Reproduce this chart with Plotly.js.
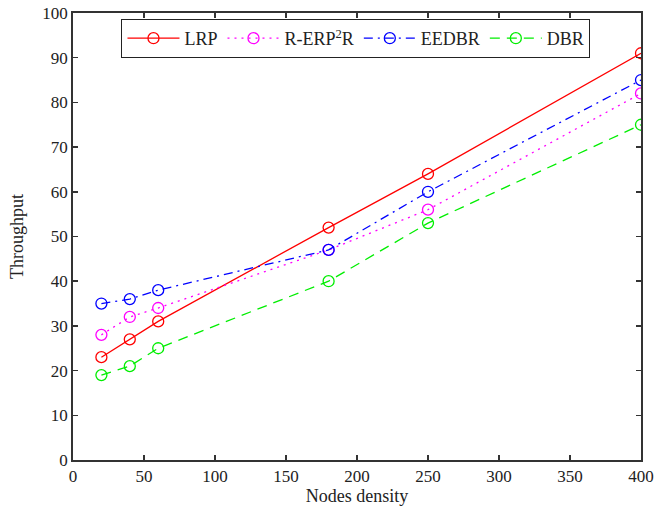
<!DOCTYPE html>
<html>
<head>
<meta charset="utf-8">
<script src="https://cdn.plot.ly/plotly-3.0.1.min.js"></script>
<style>html,body{margin:0;padding:0;background:#fff;}#chart{width:669px;height:510px;}</style>
</head>
<body>
<div id="chart"></div>
<script>
var nodes = [20, 40, 60, 180, 250, 400];
var lrp = [23, 27, 31, 52, 64, 91];
var rerp2r = [28, 32, 34, 47, 56, 82];
var eedbr = [35, 36, 38, 47, 60, 85];
var dbr = [19, 21, 25, 40, 53, 75];
var names = ['LRP', 'R-ERP<sup>2</sup>R', 'EEDBR', 'DBR'];
var xTicks = [0, 50, 100, 150, 200, 250, 300, 350, 400];
var yTicks = [0, 10, 20, 30, 40, 50, 60, 70, 80, 90, 100];

function tr(y, name, color, dash) {
  return {
    x: nodes, y: y, name: name, type: 'scatter', mode: 'lines+markers',
    line: {color: color, width: 1.3, dash: dash},
    marker: {symbol: 'circle-open', size: 11, color: color, line: {width: 1.3, color: color}}
  };
}
var data = [
  tr(lrp, names[0], '#ff0000', 'solid'),
  tr(rerp2r, names[1], '#ff00ff', '2px,5px'),
  tr(eedbr, names[2], '#0000ff', '9px,5px,2px,5px'),
  tr(dbr, names[3], '#00ee00', '10px,7px')
];
var axisCommon = {
  showgrid: false, zeroline: false, showline: true, linecolor: '#333', linewidth: 1.8,
  mirror: 'ticks', ticks: 'inside', ticklen: 5, tickcolor: '#333', tickwidth: 1.5,
  tickfont: {family: 'Liberation Serif', size: 17, color: '#222'}
};
var layout = {
  width: 669, height: 510,
  margin: {l: 73, r: 28, t: 13, b: 50},
  paper_bgcolor: '#fff', plot_bgcolor: '#fff',
  font: {family: 'Liberation Serif', color: '#222'},
  xaxis: Object.assign({}, axisCommon, {
    range: [0, 400], tickvals: xTicks, ticktext: xTicks.map(String),
    title: {text: 'Nodes density', font: {family: 'Liberation Serif', size: 18, color: '#222'}, standoff: 4}
  }),
  yaxis: Object.assign({}, axisCommon, {
    range: [0, 100], tickvals: yTicks, ticktext: yTicks.map(String),
    title: {text: 'Throughput', font: {family: 'Liberation Serif', size: 18, color: '#222'}, standoff: 14}
  }),
  legend: {
    orientation: 'h', x: 0.085, y: 0.987, xanchor: 'left', yanchor: 'top',
    bordercolor: '#222', borderwidth: 1.2, bgcolor: '#fff',
    font: {family: 'Liberation Serif', size: 18, color: '#222'},
    itemwidth: 52, tracegroupgap: 0
  },
  showlegend: true
};
Plotly.newPlot('chart', data, layout, {displayModeBar: false, staticPlot: true});
</script>
</body>
</html>
